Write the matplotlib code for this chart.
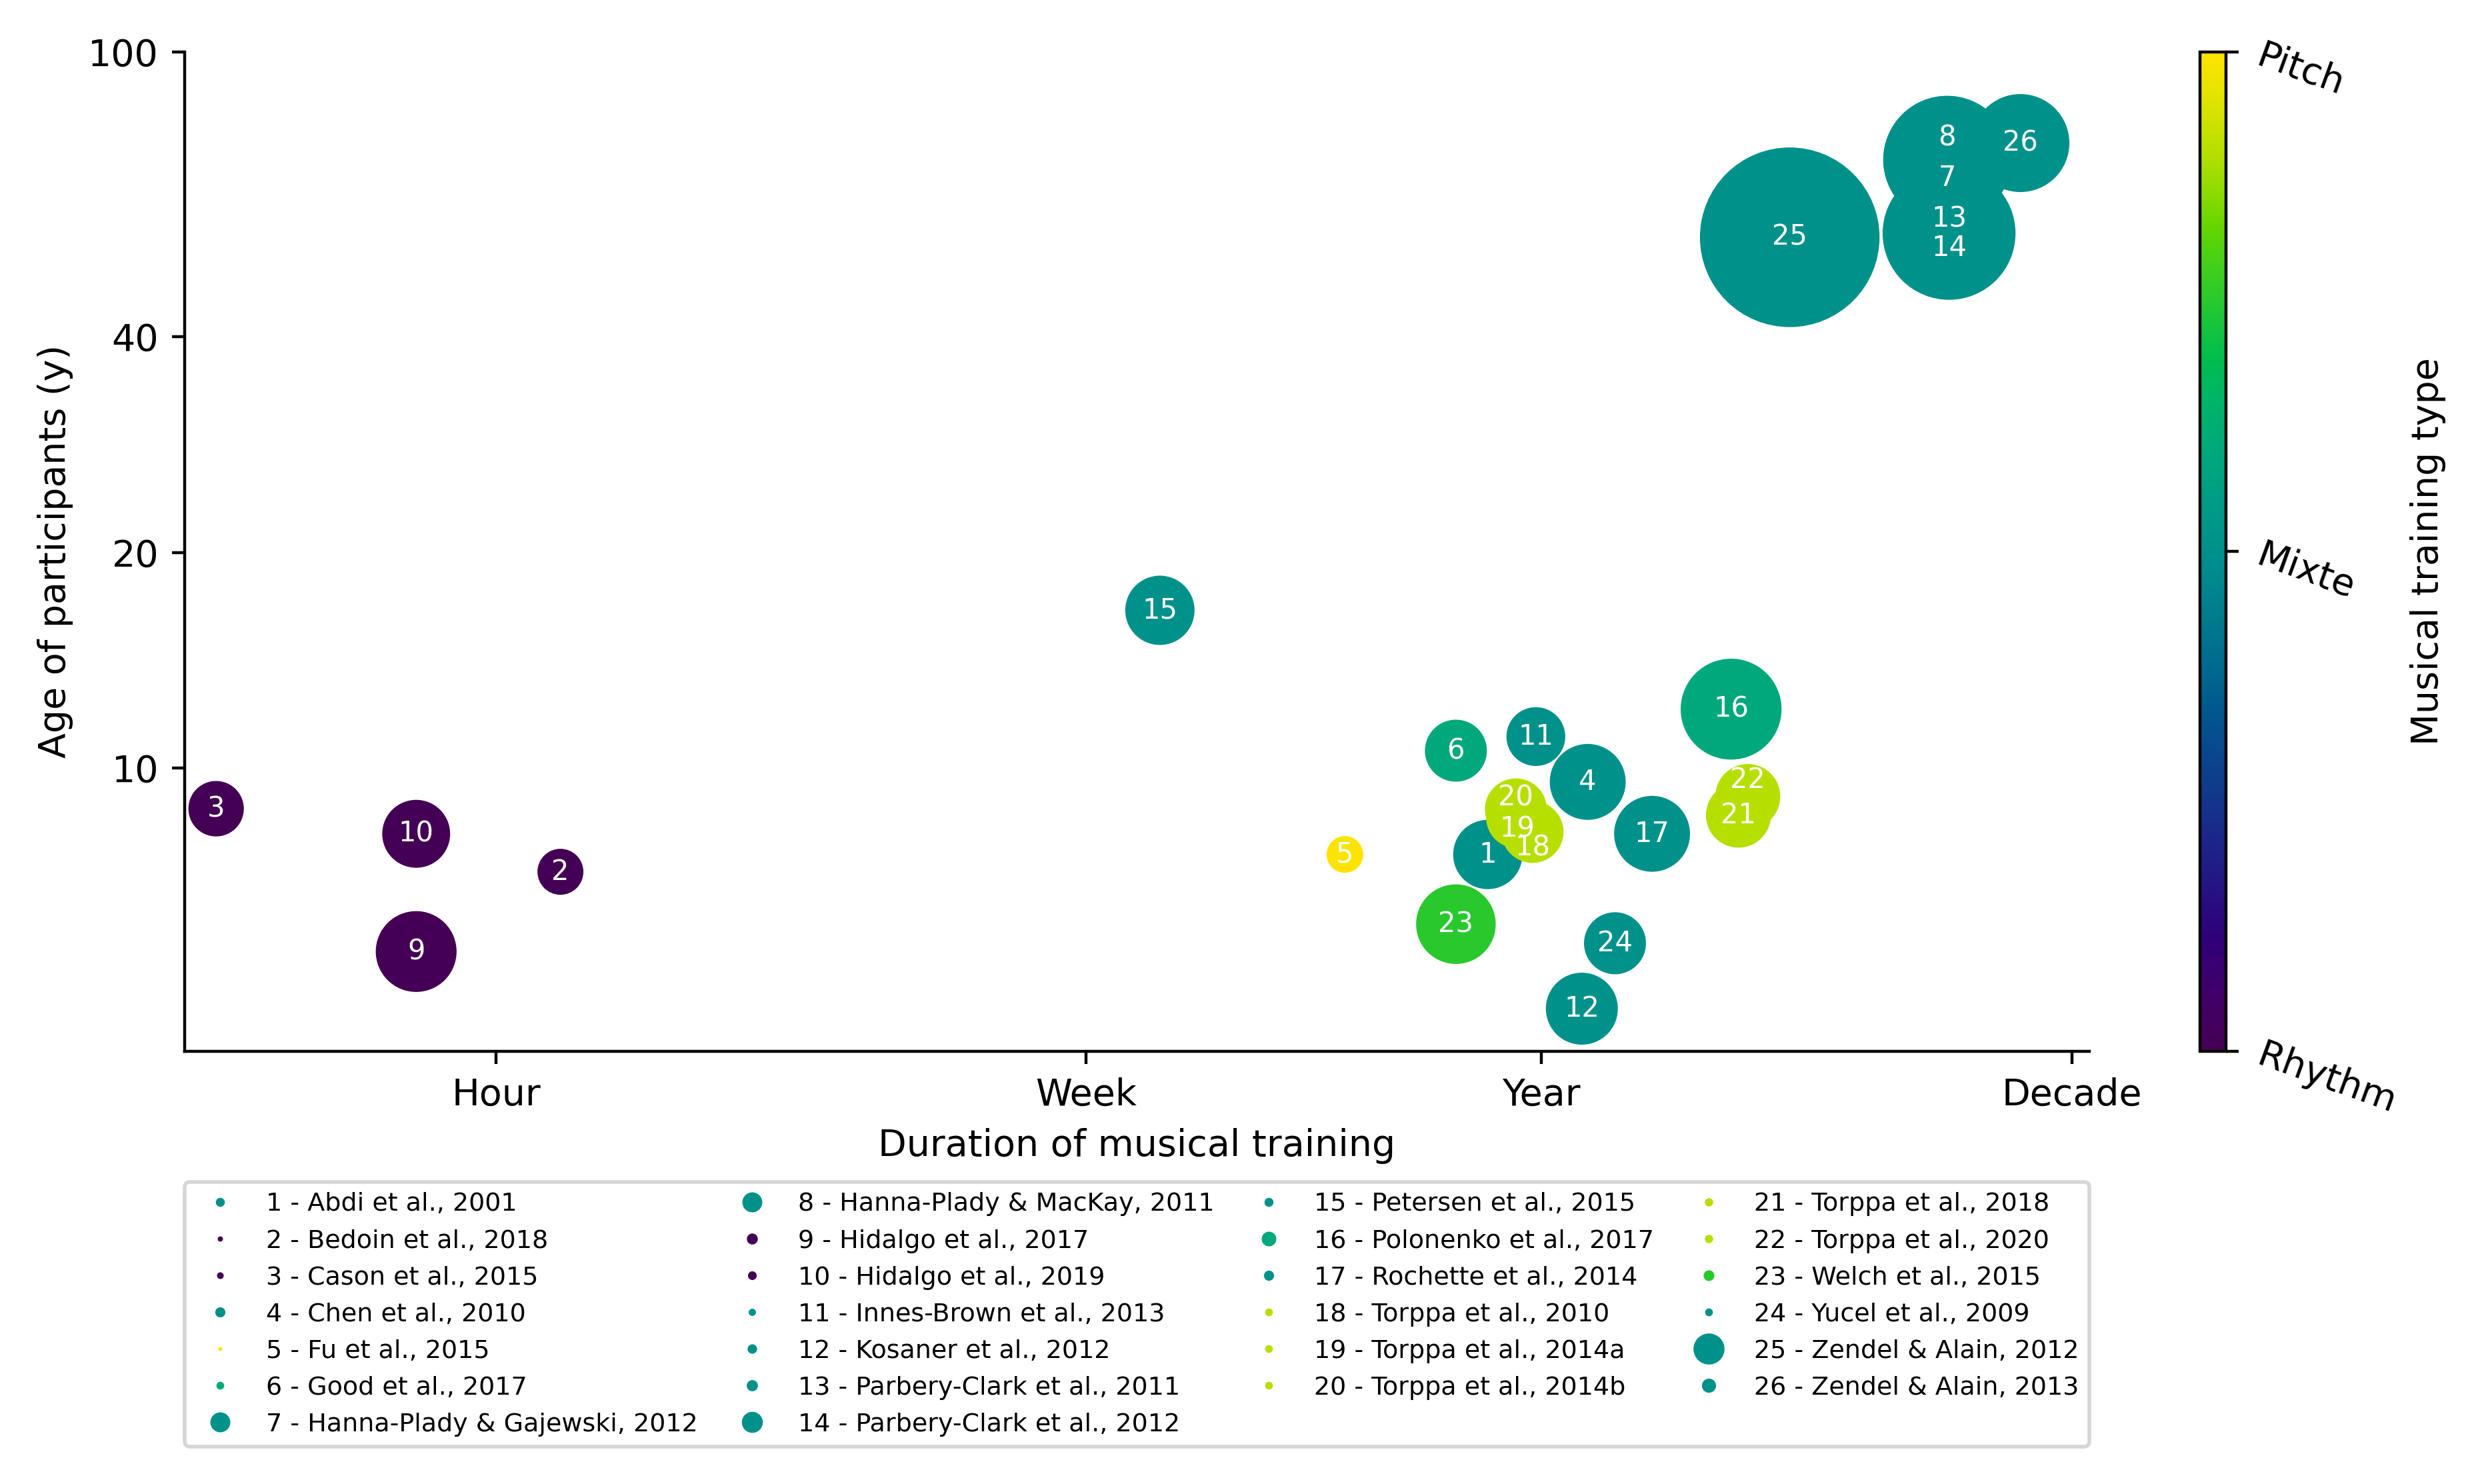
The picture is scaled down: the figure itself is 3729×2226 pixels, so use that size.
import numpy as np
import matplotlib
matplotlib.use("Agg")
import matplotlib.pyplot as plt
import matplotlib.colors as mcolors
from matplotlib.lines import Line2D

# studies (legend text)
studies = ["Abdi et al., 2001", "Bedoin et al., 2018", "Cason et al., 2015",
           "Chen et al., 2010", "Fu et al., 2015", "Good et al., 2017",
           "Hanna-Plady & Gajewski, 2012", "Hanna-Plady & MacKay, 2011",
           "Hidalgo et al., 2017", "Hidalgo et al., 2019", "Innes-Brown et al., 2013",
           "Kosaner et al., 2012", "Parbery-Clark et al., 2011", "Parbery-Clark et al., 2012",
           "Petersen et al., 2015", "Polonenko et al., 2017", "Rochette et al., 2014",
           "Torppa et al., 2010", "Torppa et al., 2014a", "Torppa et al., 2014b",
           "Torppa et al., 2018", "Torppa et al., 2020", "Welch et al., 2015",
           "Yucel et al., 2009", "Zendel & Alain, 2012", "Zendel & Alain, 2013"]

# duration of training (hours), age (years), participants, type (0 rhythm .. 1 pitch)
duration_h = [5500, 1.75, 0.088, 13100, 1590, 4170, 297000, 297000, 0.5, 0.5,
              8350, 12450, 302000, 302000, 319, 45500, 22900, 8110, 7090, 7020,
              48500, 52600, 4170, 16600, 75700, 561000]
age_y = [7.57, 7.16, 8.77, 9.56, 7.57, 10.57, 70.7, 70.7, 5.54, 8.09,
         11.06, 4.61, 55.8, 55.8, 16.6, 12.08, 8.09, 8.14, 8.53, 8.75,
         8.59, 9.12, 6.05, 5.69, 55.1, 74.6]
n_participants = [25, 11, 16, 30, 7, 20, 85, 85, 34, 24,
                  18, 27, 35, 92, 25, 53, 30, 20, 20, 20,
                  22, 22, 33, 20, 168, 50]
training_type = [0.5, 0.0, 0.0, 0.5, 1.0, 0.6, 0.5, 0.5, 0.0, 0.0,
                 0.5, 0.5, 0.5, 0.5, 0.5, 0.6, 0.5, 0.9, 0.9, 0.9,
                 0.9, 0.9, 0.75, 0.5, 0.5, 0.5]

x_ticks = [1, 168, 8760, 876000]
x_ticklabels = ["Hour", "Week", "Year", "Decade"]
y_ticks = [10, 20, 40, 100]
cbar_ticklabels = ["Rhythm", "Mixte", "Pitch"]

# vertical nudge (points) for labels of overlapping bubbles
label_dy = {7: -4.9, 8: 5.9, 13: 3.8, 14: -4.0, 18: -4.3, 19: -3.1, 20: 3.1, 22: 4.5}


def saturated_viridis(factor=1.5):
    rgb = plt.cm.viridis(np.linspace(0, 1, 256))[:, :3]
    hsv = mcolors.rgb_to_hsv(rgb)
    hsv[:, 1] = np.clip(hsv[:, 1] * factor, 0, 1)
    return mcolors.ListedColormap(mcolors.hsv_to_rgb(hsv))


def main():
    cmap = saturated_viridis()
    norm = mcolors.Normalize(0, 1)
    n = np.array(n_participants)

    fig = plt.figure(figsize=(3729 / 400, 2226 / 400))
    ax = fig.add_axes([0.0743, 0.2916, 0.7661, 0.6734])
    cax = fig.add_axes([0.885, 0.2916, 0.0105, 0.6734])

    ax.scatter(duration_h, age_y, s=n * 14, c=training_type, cmap=cmap, norm=norm,
               linewidths=0)
    for i, (x, y) in enumerate(zip(duration_h, age_y)):
        k = i + 1
        ax.annotate(str(k), (x, y), xytext=(0, label_dy.get(k, 0)),
                    textcoords="offset points", ha="center", va="center",
                    color="white", fontsize=7.5)

    ax.set_xscale("log")
    ax.set_yscale("log")
    ax.set_xlim(0.067, 1.02e6)
    ax.set_ylim(4.02, 100)
    ax.set_xticks(x_ticks)
    ax.set_xticklabels(x_ticklabels)
    ax.set_yticks(y_ticks)
    ax.set_yticklabels([str(t) for t in y_ticks])
    ax.minorticks_off()
    ax.spines["top"].set_visible(False)
    ax.spines["right"].set_visible(False)
    ax.set_xlabel("Duration of musical training")
    ax.set_ylabel("Age of participants (y)")

    # legend markers grow with the number of participants
    handles = []
    for i, name in enumerate(studies):
        handles.append(Line2D([], [], ls="", marker="o", markeredgewidth=0,
                              color=cmap(norm(training_type[i])),
                              markersize=0.3 * n[i] ** 0.65,
                              label="%d - %s" % (i + 1, name)))
    ax.legend(handles=handles, loc="upper left", bbox_to_anchor=(0, -0.131, 1, 0),
              mode="expand", ncol=4, fontsize=6.85, borderaxespad=0)

    sm = plt.cm.ScalarMappable(norm=norm, cmap=cmap)
    cb = fig.colorbar(sm, cax=cax, ticks=[0, 0.5, 1])
    cb.ax.set_yticklabels(cbar_ticklabels, rotation=-20)
    cb.set_label("Musical training type", labelpad=2.5)

    fig.savefig("out.png", dpi=400)


if __name__ == "__main__":
    main()
